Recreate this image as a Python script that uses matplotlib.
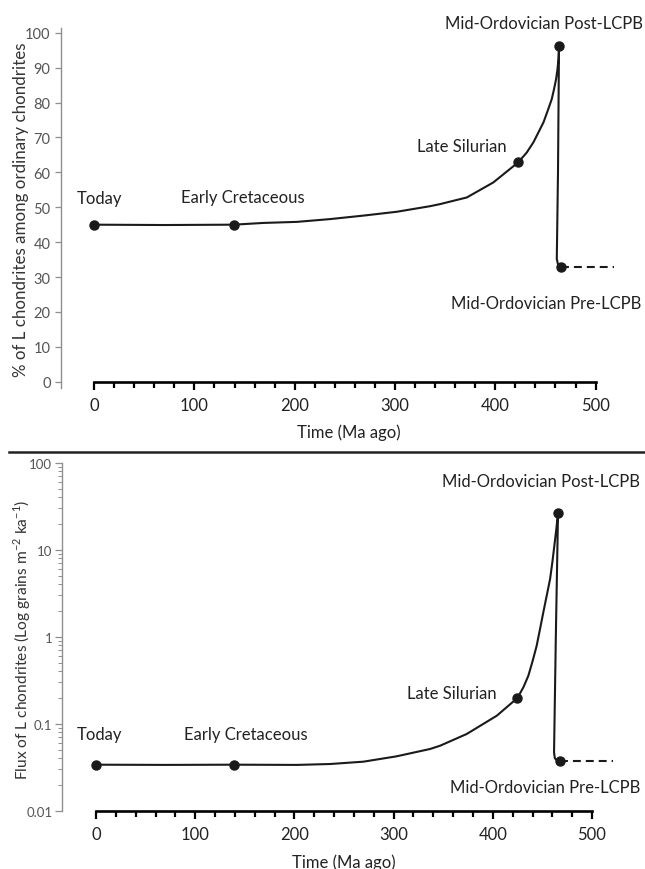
import matplotlib.pyplot as plt
from matplotlib.lines import Line2D
from matplotlib.ticker import FixedLocator, LogLocator, NullFormatter, FuncFormatter

plt.rcParams['font.family'] = ['Lato', 'DejaVu Sans']
plt.rcParams['mathtext.fontset'] = 'custom'
plt.rcParams['mathtext.rm'] = 'Lato'

# --- upper panel: % of L chondrites among ordinary chondrites ---
pct_time = [0, 70, 139, 168.8, 202, 235.3, 268.5, 301.8, 335, 345, 371.6, 398, 423,
            431.4, 438, 448, 452.3, 456.3, 458.6, 460.6, 462, 463, 463.5,
            462.5, 461.3, 462.5, 465]
pct_value = [45, 44.9, 45, 45.5, 45.8, 46.6, 47.6, 48.7, 50.3, 50.9, 52.8, 57.1, 62.9,
             65.7, 68.6, 74.3, 77.7, 81, 83.9, 86.7, 89.6, 92.5, 96.1,
             60, 35.2, 33.6, 33]
pct_pts_time = [0, 139, 423, 463.5, 465]
pct_pts_value = [45, 45, 62.9, 96.1, 33]
pct_pre_time = [465, 518]
pct_pre_value = [33, 33]

# --- lower panel: flux of L chondrites (log) ---
flux_time = [0, 70, 139, 202.3, 235.9, 269.5, 303.1, 336.7, 346.8, 373.7, 404, 424.7,
             430.8, 435.8, 440.2, 444.2, 447.6, 450.9, 454.3, 457.7, 460, 462, 464,
             465.7, 463.5, 461.7, 462.5, 464.5, 467.7]
flux_value = [0.0338, 0.0336, 0.0338, 0.0336, 0.0344, 0.0366, 0.0422, 0.0512, 0.0558,
              0.0762, 0.1236, 0.197, 0.262, 0.356, 0.53, 0.789, 1.23, 1.91, 2.96, 4.6,
              7.16, 11.1, 17.3, 26.3, 1.0, 0.0469, 0.040, 0.0382, 0.0376]
flux_pts_time = [0, 139, 424.7, 465.7, 467.7]
flux_pts_value = [0.0338, 0.0338, 0.197, 26.3, 0.0376]
flux_pre_time = [467.7, 521]
flux_pre_value = [0.0376, 0.0376]

labels = ['Today', 'Early Cretaceous', 'Late Silurian',
          'Mid-Ordovician Post-LCPB', 'Mid-Ordovician Pre-LCPB']
pct_label_x = [5, 148, 367, 449, 451]
pct_label_y = [52.6, 53, 67.6, 102.8, 22.5]
flux_label_x = [3, 151, 358.6, 449, 453]
flux_label_y = [0.0762, 0.0762, 0.225, 62, 0.0186]

x_ticks = [0, 100, 200, 300, 400, 500]
pct_ticks = list(range(0, 101, 10))
flux_ticks = [0.01, 0.1, 1, 10, 100]
flux_ticklabels = ['0.01', '0.1', '1', '10', '100']

W, H = 645, 870
fig = plt.figure(figsize=(W / 100, H / 100), dpi=100)

line_col = '#1a1a1a'
spine_grey = '#8f8f8f'
tick_grey = '#555555'
text_col = '#222222'


def style_axes(ax):
    ax.spines['top'].set_visible(False)
    ax.spines['right'].set_visible(False)
    ax.spines['left'].set_color(spine_grey)
    ax.spines['left'].set_linewidth(1.0)
    ax.spines['bottom'].set_color('black')
    ax.spines['bottom'].set_linewidth(1.9)
    ax.spines['bottom'].set_bounds(0, 500)
    ax.set_xticks(x_ticks)
    ax.xaxis.set_minor_locator(FixedLocator([v for v in range(0, 501, 20) if v % 100]))
    ax.tick_params(axis='x', which='major', direction='out', length=6, width=1.6,
                   color='black', labelsize=12, labelcolor=text_col, pad=5)
    ax.tick_params(axis='x', which='minor', direction='out', length=4.5, width=1.6,
                   color='black')
    ax.tick_params(axis='y', which='both', direction='out', color=spine_grey,
                   labelcolor=tick_grey)
    ax.patch.set_alpha(0)


# upper
ax1 = fig.add_axes([61 / W, 1 - 389 / H, 564.7 / W, 360.5 / H])
style_axes(ax1)
ax1.set_xlim(-33, 530)
ax1.set_ylim(-1.8, 101.5)
ax1.spines['bottom'].set_position(('data', 0))
ax1.set_yticks(pct_ticks)
ax1.tick_params(axis='y', length=4.5, width=0.9, labelsize=10.5, pad=3)
ax1.plot(pct_time, pct_value, color=line_col, lw=1.5, solid_joinstyle='round',
         clip_on=False)
ax1.plot(pct_pre_time, pct_pre_value, color=line_col, lw=1.5, dashes=(3.8, 2.4),
         clip_on=False)
ax1.plot(pct_pts_time, pct_pts_value, 'o', color=line_col, ms=6.5, clip_on=False)
for lab, x, y in zip(labels, pct_label_x, pct_label_y):
    ax1.text(x, y, lab, ha='center', va='center', fontsize=12, color=text_col)

# lower
ax2 = fig.add_axes([62 / W, 1 - 811.7 / H, 559.8 / W, 348 / H])
style_axes(ax2)
ax2.set_yscale('log')
ax2.set_xlim(-34.3, 530)
ax2.set_ylim(0.01, 100)
ax2.yaxis.set_major_locator(FixedLocator(flux_ticks))
ax2.yaxis.set_major_formatter(FuncFormatter(
    lambda v, p: dict(zip(flux_ticks, flux_ticklabels)).get(round(v, 4), '')))
ax2.yaxis.set_minor_locator(LogLocator(base=10, subs=range(2, 10)))
ax2.yaxis.set_minor_formatter(NullFormatter())
ax2.tick_params(axis='y', which='major', length=5, width=0.9, labelsize=9.5, pad=2)
ax2.tick_params(axis='y', which='minor', length=3, width=0.7)
ax2.plot(flux_time, flux_value, color=line_col, lw=1.5, solid_joinstyle='round',
         clip_on=False)
ax2.plot(flux_pre_time, flux_pre_value, color=line_col, lw=1.5, dashes=(3.8, 2.4),
         clip_on=False)
ax2.plot(flux_pts_time, flux_pts_value, 'o', color=line_col, ms=6.5, clip_on=False)
for lab, x, y in zip(labels, flux_label_x, flux_label_y):
    ax2.text(x, y, lab, ha='center', va='center', fontsize=12, color=text_col)

# axis titles
fig.text(21 / W, 1 - 210 / H, '% of L chondrites among ordinary chondrites',
         rotation=90, ha='center', va='center', fontsize=12.2, color='#333333')
fig.text(22 / W, 1 - 640 / H,
         r'Flux of L chondrites (Log grains m$^{\mathregular{-2}}$ ka$^{\mathregular{-1}}$)',
         rotation=90, ha='center', va='center', fontsize=11.2, color='#333333')
fig.text(349 / W, 1 - 433 / H, 'Time (Ma ago)', ha='center', va='center',
         fontsize=12, color=text_col)
fig.text(344 / W, 1 - 868 / H, 'Time (Ma ago)', ha='center', va='baseline',
         fontsize=12, color=text_col)

# separator between panels
fig.add_artist(Line2D([9 / W, 1], [1 - 453 / H, 1 - 453 / H], transform=fig.transFigure,
                      color='#222222', lw=1.8))

fig.savefig('out.png', dpi=100)
